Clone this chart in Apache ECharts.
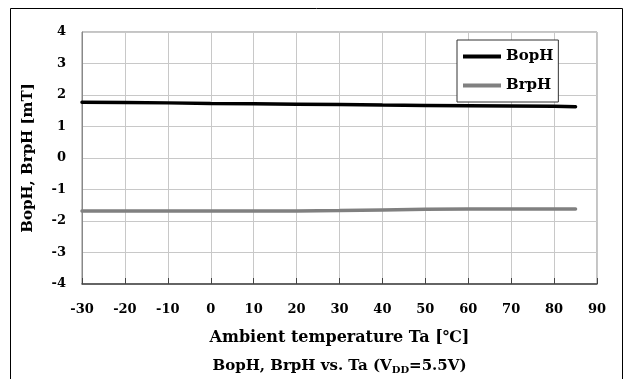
<!DOCTYPE html>
<html>
<head>
<meta charset="utf-8">
<script src="https://cdn.jsdelivr.net/npm/echarts@6/dist/echarts.min.js"></script>
<style>
  html, body { margin: 0; padding: 0; background: #fff; }
  #chart { width: 624px; height: 379px; }
</style>
</head>
<body>
<div id="chart"></div>
<script>
// values
const temps = [-30, -20, -10, 0, 10, 20, 30, 40, 50, 60, 70, 80, 85];
const bopH = [1.77, 1.76, 1.75, 1.73, 1.72, 1.71, 1.70, 1.68, 1.67, 1.66, 1.65, 1.64, 1.63];
const brpH = [-1.68, -1.68, -1.68, -1.68, -1.68, -1.68, -1.67, -1.65, -1.63, -1.62, -1.62, -1.62, -1.62];
const seriesNames = ['BopH', 'BrpH'];

const font = 'DejaVu Serif';

const chart = echarts.init(document.getElementById('chart'));

chart.setOption({
  animation: false,
  backgroundColor: '#fff',
  grid: { left: 82, right: 27, top: 32, bottom: 95, show: true, borderColor: '#888', borderWidth: 1 },
  legend: {
    data: seriesNames,
    orient: 'vertical',
    left: 457,
    top: 40,
    icon: 'rect',
    itemWidth: 38,
    itemHeight: 4,
    itemGap: 14,
    padding: [9, 5, 9, 6],
    backgroundColor: '#fff',
    borderColor: '#333',
    borderWidth: 1,
    textStyle: { fontFamily: font, fontWeight: 'bold', fontSize: 15, color: '#000' }
  },
  graphic: [
    { type: 'rect', shape: { x: 10.5, y: 8.5, width: 612, height: 420 }, style: { fill: 'none', stroke: '#000', lineWidth: 1 }, silent: true, z: -1 },
    {
      type: 'text', x: 339.5, y: 366,
      style: {
        text: '{t|BopH, BrpH vs. Ta (V}{s|DD}{t|=5.5V)}',
        align: 'center',
        verticalAlign: 'middle',
        rich: {
          t: { fontFamily: font, fontWeight: 'bold', fontSize: 15, fill: '#000' },
          s: { fontFamily: font, fontWeight: 'bold', fontSize: 10, fill: '#000', padding: [8, 0, 0, 0] }
        }
      }
    }
  ],
  xAxis: {
    type: 'value',
    min: -30, max: 90, interval: 10,
    name: 'Ambient temperature Ta [\u2103]',
    nameLocation: 'middle',
    nameGap: 46,
    nameTextStyle: { fontFamily: font, fontWeight: 'bold', fontSize: 16, color: '#000' },
    axisLine: { onZero: false, lineStyle: { color: '#444', width: 1.5 } },
    axisTick: { inside: true, length: 6, lineStyle: { color: '#444' } },
    axisLabel: { fontFamily: font, fontWeight: 'bold', fontSize: 13, color: '#000', margin: 19 },
    splitLine: { lineStyle: { color: '#c8c8c8' } }
  },
  yAxis: {
    type: 'value',
    min: -4, max: 4, interval: 1,
    name: 'BopH, BrpH [mT]',
    nameLocation: 'middle',
    nameGap: 46,
    nameTextStyle: { fontFamily: font, fontWeight: 'bold', fontSize: 15, color: '#000' },
    axisLine: { show: true, onZero: false, lineStyle: { color: '#888' } },
    axisTick: { show: false },
    axisLabel: { fontFamily: font, fontWeight: 'bold', fontSize: 13, color: '#000', margin: 16 },
    splitLine: { lineStyle: { color: '#c8c8c8' } }
  },
  series: [
    {
      name: seriesNames[0], type: 'line', showSymbol: false, symbol: 'none',
      data: temps.map((t, i) => [t, bopH[i]]),
      lineStyle: { color: '#000', width: 3.5, cap: 'round' },
      itemStyle: { color: '#000' }
    },
    {
      name: seriesNames[1], type: 'line', showSymbol: false, symbol: 'none',
      data: temps.map((t, i) => [t, brpH[i]]),
      lineStyle: { color: '#808080', width: 3.5, cap: 'round' },
      itemStyle: { color: '#808080' }
    }
  ]
});
</script>
</body>
</html>
